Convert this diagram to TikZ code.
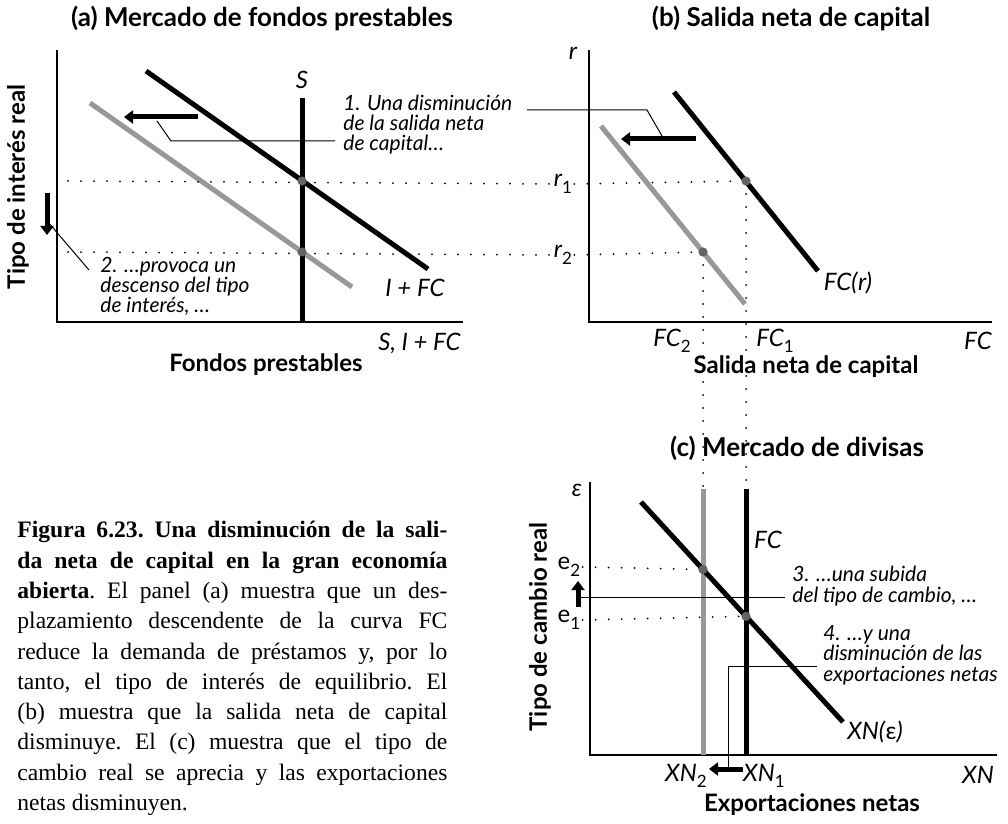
\documentclass[tikz,border=0pt]{standalone}
\usepackage{fontspec}
\setmainfont{Liberation Serif}
\setsansfont{Lato}
\usetikzlibrary{arrows.meta}
\definecolor{shiftgray}{RGB}{152,152,152}
\definecolor{dotgray}{RGB}{100,100,100}
\newcommand{\subl}[1]{\raisebox{-3.2pt}{\upshape\fontsize{8.5}{9}\selectfont#1}}
\tikzset{
  curve/.style={line width=2.5pt},
  shifted/.style={line width=2.5pt, shiftgray},
  axis/.style={line width=0.65pt},
  guide/.style={line width=1pt, line cap=round, dash pattern=on 0pt off 6.5pt},
  eq/.style={circle, fill=dotgray, inner sep=0pt, minimum size=4.6pt},
  move/.style={line width=2.5pt, -{Triangle[length=4.5pt,width=6.5pt]}},
  callout/.style={line width=0.5pt},
  note/.style={font=\sffamily\itshape\fontsize{10.5}{10.2}\selectfont, align=left, inner sep=0pt},
  lbl/.style={font=\sffamily\itshape\fontsize{12}{13}\selectfont, inner sep=1pt},
  ttl/.style={font=\sffamily\bfseries\fontsize{13}{15}\selectfont},
  axlab/.style={font=\sffamily\bfseries\fontsize{12}{14}\selectfont}
}
\begin{document}
\begin{tikzpicture}[x=0.5pt, y=-0.5pt]
\useasboundingbox (0,0) rectangle (1008,824);
% (a) loanable funds
\node[ttl] (ta) at (262,18) {(a) Mercado de fondos prestables};
\draw[axis] (57,50) -- (57,322) -- (463,322);
\node[axlab, rotate=90] (ya) at (18,187) {Tipo de interés real};
\node[axlab] (xa) at (266,365) {Fondos prestables};
\node[lbl, anchor=east] (xna) at (463,343) {S, I + FC};
\draw[shifted] (90,103) -- (352,287);
\draw[curve] (146,71) -- (428,269);
\draw[curve] (302,98) coordinate (Stop) -- (302,322);
\node[lbl] (Slab) at (302,80) {S};
\node[lbl] (Dlab) at (415,288) {I + FC};
\coordinate (A1) at (302,181);
\coordinate (A2) at (302,252);
\coordinate (a1) at (68,181);
\coordinate (a2) at (68,252);
% (b) net capital outflow
\node[ttl] (tb) at (791,18) {(b) Salida neta de capital};
\draw[axis] (589,50) -- (589,322) -- (992,322);
\node[lbl] (rlab) at (573,53) {r};
\node[axlab] (xb) at (806,367) {Salida neta de capital};
\node[lbl] (xnb) at (978,341) {FC};
\draw[shifted] (601,126) -- (745,304);
\draw[curve] (674,92) -- (818,271);
\node[lbl] (FClab) at (848,283) {FC(\textup{\itshape r})};
\coordinate (B1) at (746,181);
\coordinate (B2) at (703,252);
\node[lbl] (r1) at (563,184) {r\subl{1}};
\node[lbl] (r2) at (563,255) {r\subl{2}};
\node[lbl] (FC2) at (672,341) {FC\subl{2}};
\node[lbl] (FC1) at (775,341) {FC\subl{1}};
% (c) foreign exchange
\node[ttl] (tc) at (797,448) {(c) Mercado de divisas};
\draw[axis] (590,482) -- (590,755) -- (997,755);
\node[lbl] (eps) at (577,490) {ε};
\node[axlab, rotate=90] (yc) at (540,627) {Tipo de cambio real};
\node[axlab] (xc) at (812,805) {Exportaciones netas};
\node[lbl] (xnc) at (978,775) {XN};
\draw[shifted] (703,489) coordinate (G2) -- (703,755);
\draw[curve] (746,489) coordinate (G1) -- (746,755);
\draw[curve] (641,502) -- (843,722);
\node[lbl] (FCc) at (768,540) {FC};
\node[lbl] (XNlab) at (875,732) {XN(\textup{ε})};
\coordinate (C2) at (703,569.5);
\coordinate (C1) at (746,616.3);
\node[lbl, font=\sffamily\fontsize{12}{13}\selectfont] (e2) at (569,567) {e\subl{2}};
\node[lbl, font=\sffamily\fontsize{12}{13}\selectfont] (e1) at (569,620) {e\subl{1}};
\node[lbl] (XN2) at (686,776) {XN\subl{2}};
\node[lbl] (XN1) at (764,776) {XN\subl{1}};
% guides
\draw[guide] (a1) -- (r1.west) (r1.east) -- (B1);
\draw[guide] (a2) -- (r2.west) (r2.east) -- (B2);
\draw[guide] (B1) -- (G1) (B2) -- (G2);
\draw[guide] (e2.east) -- (C2) (e1.east) -- (C1);
\foreach \p in {A1,A2,B1,B2,C1,C2} \node[eq] at (\p) {};
% shifts and notes
\draw[move] (198,117) -- (124,117);
\draw[move] (696,139) -- (621,139);
\draw[move] (47,193) -- (47,235);
\draw[move] (578,607) -- (578,581);
\draw[move] (743,769) -- (709,769);
\node[note, anchor=base west] (n1) at (343,151) {1. Una disminución\\de la salida neta\\de capital…};
\node[note, anchor=base west] (n2) at (100,313) {2. …provoca un\\descenso del tipo\\de interés, …};
\node[note, anchor=base west] (n3) at (792,602) {3. …una subida\\del tipo de cambio, …};
\node[note, anchor=base west] (n4) at (823,681) {4. …y una\\disminución de las\\exportaciones netas};
\coordinate (p1) at (527,110);
\draw[callout] (157,121) -- (171,141) -- (335,141);
\draw[callout] (p1) -- (647,110) -- (662,136);
\draw[callout] (48,222) -- (89,270);
\draw[callout] (580,597) -- (785,597);
\draw[callout] (817,666) -- (728,666) -- (728,769);
% caption
\node[anchor=north west, text width=215pt, align=justify, inner sep=0pt,
  font=\fontsize{11.8}{15.15}\selectfont\frenchspacing] (cap) at (17,521)
  {\textbf{Figura 6.23. Una disminución de la sali-\linebreak da neta de capital en la gran economía\linebreak abierta}. El panel (a) muestra que un des-\linebreak plazamiento descendente de la curva FC\linebreak reduce la demanda de préstamos y, por lo\linebreak tanto, el tipo de interés de equilibrio. El\linebreak (b) muestra que la salida neta de capital\linebreak disminuye. El (c) muestra que el tipo de\linebreak cambio real se aprecia y las exportaciones\linebreak netas disminuyen.};
\end{tikzpicture}
\end{document}
